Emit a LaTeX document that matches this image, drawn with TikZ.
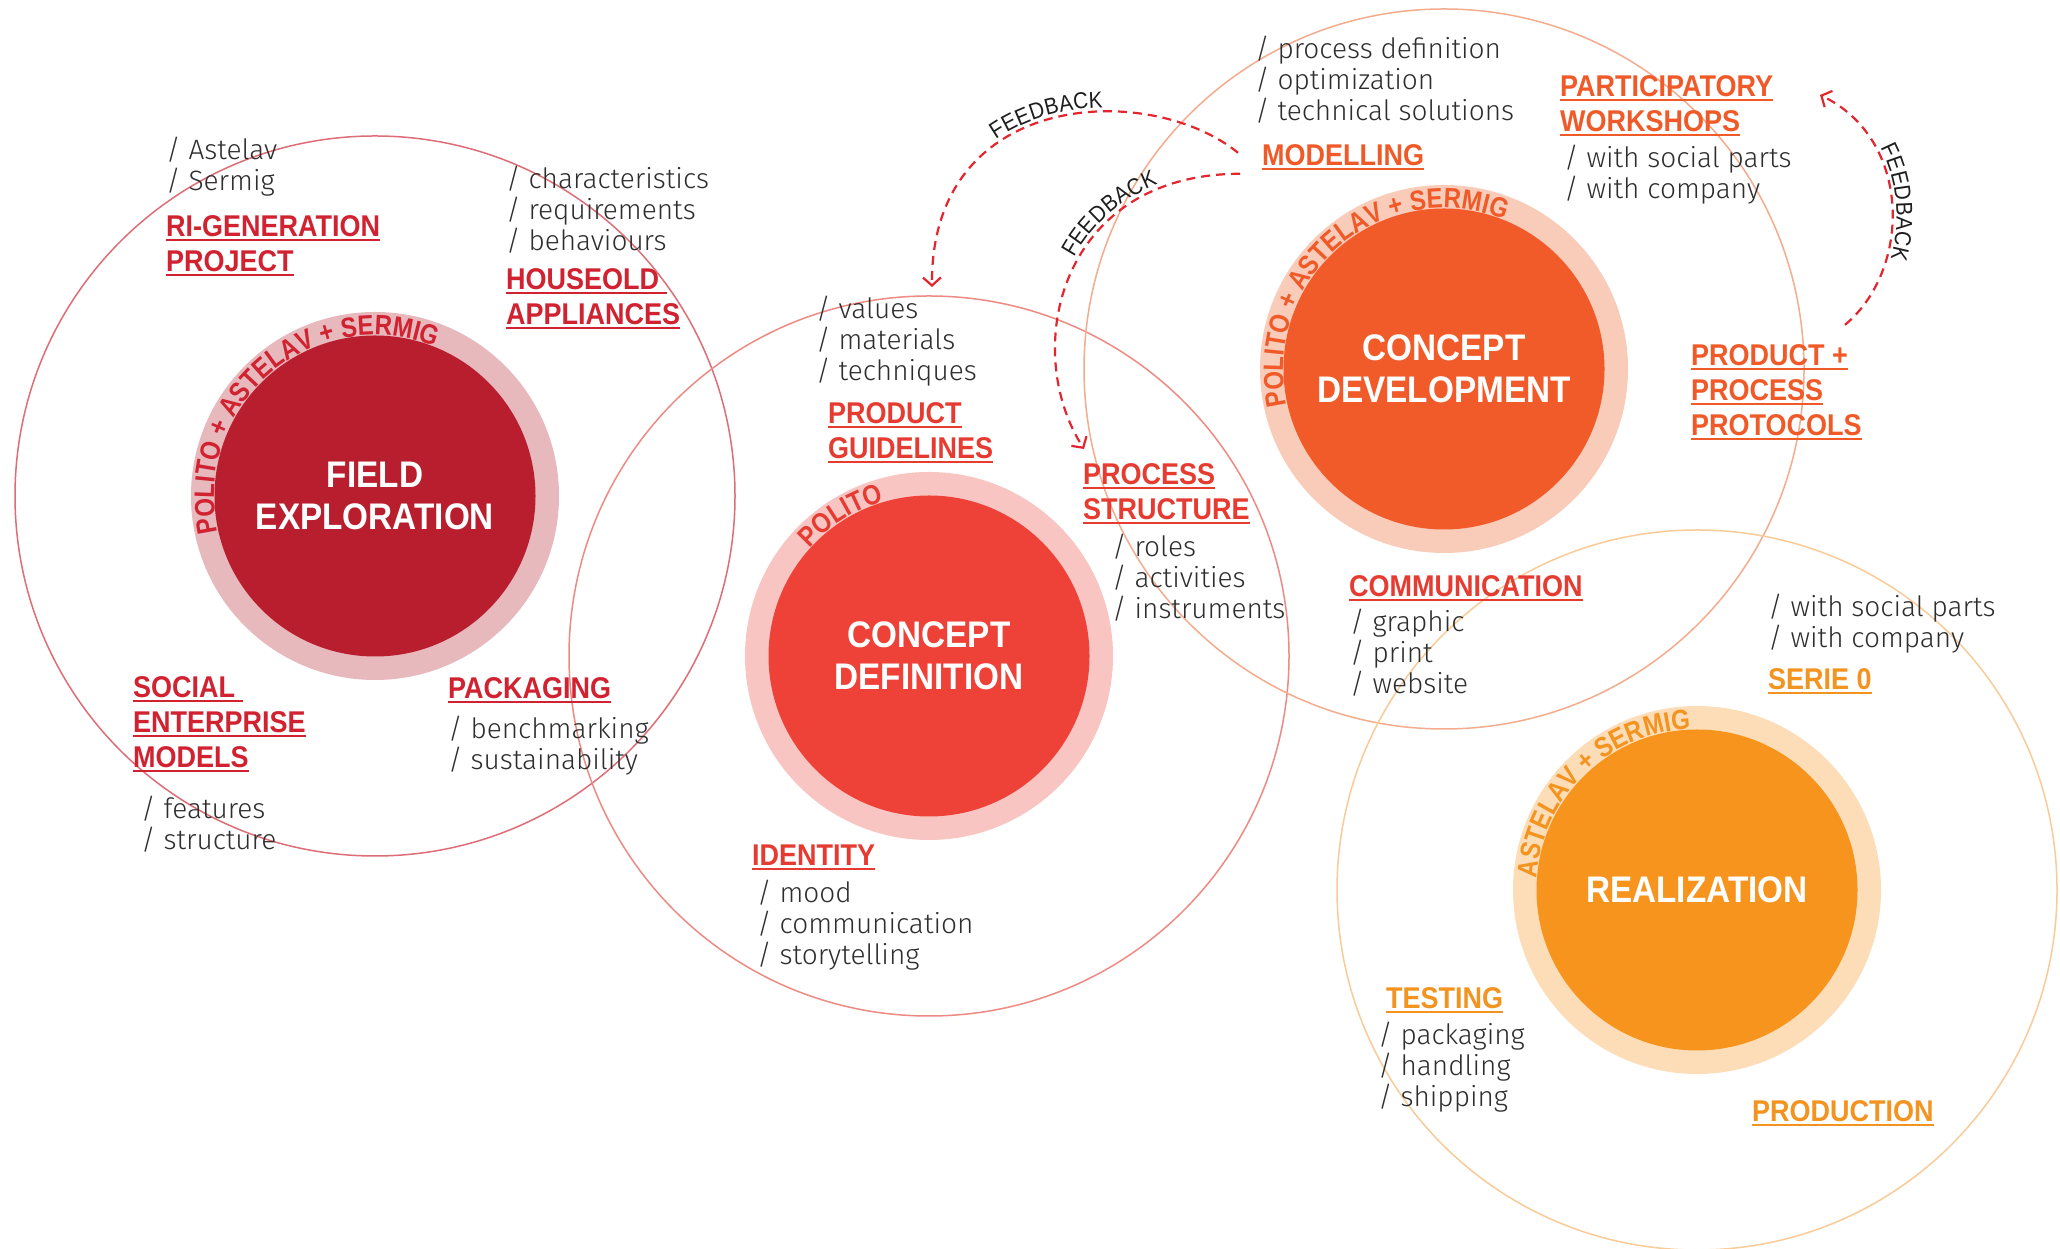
\documentclass[tikz,border=0pt]{standalone}
\usepackage{fontspec}
\usetikzlibrary{decorations.text,arrows.meta}
\newfontfamily\bfnt{Liberation Sans}[FakeStretch=0.9]
\newfontfamily\rgfnt{Liberation Sans}[FakeStretch=0.86]
\newfontfamily\lfnt{Fira Sans Light}
\definecolor{fieldDark}{HTML}{B81E2E}
\definecolor{fieldRing}{HTML}{E7B8BC}
\definecolor{fieldLine}{HTML}{DD6E78}
\definecolor{fieldLabel}{HTML}{D02230}
\definecolor{defDark}{HTML}{EE4138}
\definecolor{defRing}{HTML}{F8C5C3}
\definecolor{defLine}{HTML}{EE8A84}
\definecolor{defLabel}{HTML}{E63B31}
\definecolor{devDark}{HTML}{F15B2A}
\definecolor{devRing}{HTML}{F9CBB9}
\definecolor{devLine}{HTML}{F3AC8E}
\definecolor{devLabel}{HTML}{F05A28}
\definecolor{realDark}{HTML}{F7941E}
\definecolor{realRing}{HTML}{FDDDB7}
\definecolor{realLine}{HTML}{F8CB98}
\definecolor{realLabel}{HTML}{F39421}
\definecolor{fbred}{HTML}{E3262E}
\definecolor{fbtxt}{HTML}{1E1E1E}
\definecolor{txtgray}{HTML}{2E2E2E}
\newcommand\undl[1]{\setbox0=\hbox{#1}\rlap{\rule[-4.5pt]{\wd0}{2.4pt}}\box0}
\newcommand\Ulin[1]{\hbox{\undl{#1}}}
\newcommand\Tlin[1]{\hbox{#1}}
\newcommand\Lstack[1]{\vtop{\baselineskip=35pt\relax #1}}
\newcommand\Tstack[1]{\vtop{\baselineskip=31pt\relax #1}}
\newcommand\ringfnt{\rgfnt\bfseries\fontsize{28}{30}\selectfont}
\newcommand\fbfnt{\bfnt\fontsize{23}{26}\selectfont}
\tikzset{
  orbit/.style={line width=1.5pt},
  ringc/.style={circle, inner sep=0pt, minimum size=368pt},
  corec/.style={circle, inner sep=0pt, minimum size=321pt, text=white, align=center,
    font=\bfnt\bfseries\fontsize{37}{42}\selectfont},
  lbl/.style={anchor=base west, inner sep=0pt, font=\bfnt\bfseries\fontsize{30}{35}\selectfont},
  lt/.style={anchor=base west, inner sep=0pt, font=\lfnt\fontsize{28}{31}\selectfont, text=txtgray},
  fb/.style={draw=fbred, line width=2.2pt, dash pattern=on 9pt off 6pt,
    -{Straight Barb[length=8pt,width=18pt]}},
  fbtext/.style={decorate, decoration={text along path, raise=4pt,
    text={|\fbfnt\color{fbtxt}|FEEDBACK}}},
  ringtext/.style={decorate, decoration={text along path, text align=center}}
}
\begin{document}
\begin{tikzpicture}[x=1pt,y=1pt]
\useasboundingbox (0,0) rectangle (2060,1249);
\fill[white] (0,0) rectangle (2060,1249);

\coordinate (fe) at (375,753);
\coordinate (cd) at (929,593);
\coordinate (cv) at (1444,880);
\coordinate (rz) at (1697,359);

% orbits
\draw[orbit, draw=fieldLine] (fe) circle[radius=360];
\draw[orbit, draw=defLine] (cd) circle[radius=360];
\draw[orbit, draw=devLine] (cv) circle[radius=360];
\draw[orbit, draw=realLine] (rz) circle[radius=360];

% rings and cores
\node[ringc, fill=fieldRing] (feRing) at (fe) {};
\node[corec, fill=fieldDark] (feCore) at (fe) {FIELD\\EXPLORATION};
\node[ringc, fill=defRing] (cdRing) at (cd) {};
\node[corec, fill=defDark] (cdCore) at (cd) {CONCEPT\\DEFINITION};
\node[ringc, fill=devRing] (cvRing) at (cv) {};
\node[corec, fill=devDark] (cvCore) at (cv) {CONCEPT\\DEVELOPMENT};
\node[ringc, fill=realRing] (rzRing) at (rz) {};
\node[corec, fill=realDark] (rzCore) at (rz) {REALIZATION};

% ring texts
\path[ringtext, decoration={text={|\ringfnt\color{fieldLabel}|POLITO + ASTELAV + SERMIG}}]
  ([shift={(205.5:161)}]fe) arc[start angle=205.5, end angle=55.5, radius=161];
\path[ringtext, decoration={text={|\ringfnt\color{defLabel}|POLITO}}]
  ([shift={(172:161)}]cd) arc[start angle=172, end angle=72, radius=161];
\path[ringtext, decoration={text={|\ringfnt\color{devLabel}|POLITO + ASTELAV + SERMIG}}]
  ([shift={(205.5:161)}]cv) arc[start angle=205.5, end angle=55.5, radius=161];
\path[ringtext, decoration={text={|\ringfnt\color{realLabel}|ASTELAV + SERMIG}}]
  ([shift={(194:161)}]rz) arc[start angle=194, end angle=74, radius=161];

% field exploration labels
\node[lt] (astelav) at (166,1089) {\Tstack{\Tlin{/ Astelav}\Tlin{/ Sermig}}};
\node[lbl, text=fieldLabel] (rigen) at (166,1012) {\Lstack{\Ulin{RI-GENERATION}\Ulin{PROJECT}}};
\node[lt] (charact) at (506,1060) {\Tstack{\Tlin{/ characteristics}\Tlin{/ requirements}\Tlin{/ behaviours}}};
\node[lbl, text=fieldLabel] (houseold) at (506,959) {\Lstack{\Ulin{HOUSEOLD\ }\Ulin{APPLIANCES}}};
\node[lbl, text=fieldLabel] (social) at (133,551) {\Lstack{\Ulin{SOCIAL\ }\Ulin{ENTERPRISE}\Ulin{MODELS}}};
\node[lt] (features) at (141,430) {\Tstack{\Tlin{/ features}\Tlin{/ structure}}};
\node[lbl, text=fieldLabel] (packaging) at (448,550) {\Ulin{PACKAGING}};
\node[lt] (bench) at (448,510) {\Tstack{\Tlin{/ benchmarking}\Tlin{/ sustainability}}};

% concept definition labels
\node[lt] (values) at (816,930) {\Tstack{\Tlin{/ values}\Tlin{/ materials}\Tlin{/ techniques}}};
\node[lbl, text=defLabel] (prodguide) at (828,825) {\Lstack{\Ulin{PRODUCT}\Ulin{GUIDELINES}}};
\node[lbl, text=defLabel] (procstruct) at (1083,764) {\Lstack{\Ulin{PROCESS}\Ulin{STRUCTURE}}};
\node[lt] (roles) at (1112,692) {\Tstack{\Tlin{/ roles}\Tlin{/ activities}\Tlin{/ instruments}}};
\node[lbl, text=defLabel] (identity) at (752,383) {\Ulin{IDENTITY}};
\node[lt] (mood) at (757,346) {\Tstack{\Tlin{/ mood}\Tlin{/ communication}\Tlin{/ storytelling}}};

% concept development labels
\node[lt] (procdef) at (1255,1190) {\Tstack{\Tlin{/ process definition}\Tlin{/ optimization}\Tlin{/ technical solutions}}};
\node[lbl, text=devLabel] (modelling) at (1262,1083) {\Ulin{MODELLING}};
\node[lbl, text=devLabel] (particip) at (1560,1152) {\Lstack{\Ulin{PARTICIPATORY}\Ulin{WORKSHOPS}}};
\node[lt] (withsocA) at (1564,1081) {\Tstack{\Tlin{/ with social parts}\Tlin{/ with company}}};
\node[lbl, text=devLabel] (prodproc) at (1691,883) {\Lstack{\Ulin{PRODUCT +}\Ulin{PROCESS}\Ulin{PROTOCOLS}}};
\node[lbl, text=defLabel] (comm) at (1349,652) {\Ulin{COMMUNICATION}};
\node[lt] (graphic) at (1350,617) {\Tstack{\Tlin{/ graphic}\Tlin{/ print}\Tlin{/ website}}};

% realization labels
\node[lt] (withsocB) at (1768,632) {\Tstack{\Tlin{/ with social parts}\Tlin{/ with company}}};
\node[lbl, text=realLabel] (serie) at (1768,559) {\Ulin{SERIE 0}};
\node[lbl, text=realLabel] (testing) at (1386,240) {\Ulin{TESTING}};
\node[lt] (packB) at (1378,204) {\Tstack{\Tlin{/ packaging}\Tlin{/ handling}\Tlin{/ shipping}}};
\node[lbl, text=realLabel] (production) at (1752,127) {\Ulin{PRODUCTION}};

% feedback connectors
\coordinate (m1) at ([shift={(-24,5)}]modelling.west);
\coordinate (m2) at ([shift={(-22,-16)}]modelling.west);
\coordinate (t1) at (932,962);
\coordinate (t2) at (1084,800);
\coordinate (p3) at ([shift={(154,20)}]prodproc.north west);
\coordinate (t3) at (1820,1154);

\draw[fb] (m1) .. controls (1150,1168) and (930,1160) .. (t1);
\path[fbtext, decoration={text align={left indent=165pt}}] (t1) .. controls (930,1160) and (1150,1168) .. (m1);
\draw[fb] (m2) .. controls (1060,1075) and (1020,900) .. (t2);
\path[fbtext, decoration={text align={left indent=198pt}}] (t2) .. controls (1020,900) and (1060,1075) .. (m2);
\draw[fb] (p3) .. controls (1912,980) and (1912,1110) .. (t3);
\path[fbtext, decoration={text align=center}] (t3) .. controls (1912,1110) and (1912,980) .. (p3);
\end{tikzpicture}
\end{document}
